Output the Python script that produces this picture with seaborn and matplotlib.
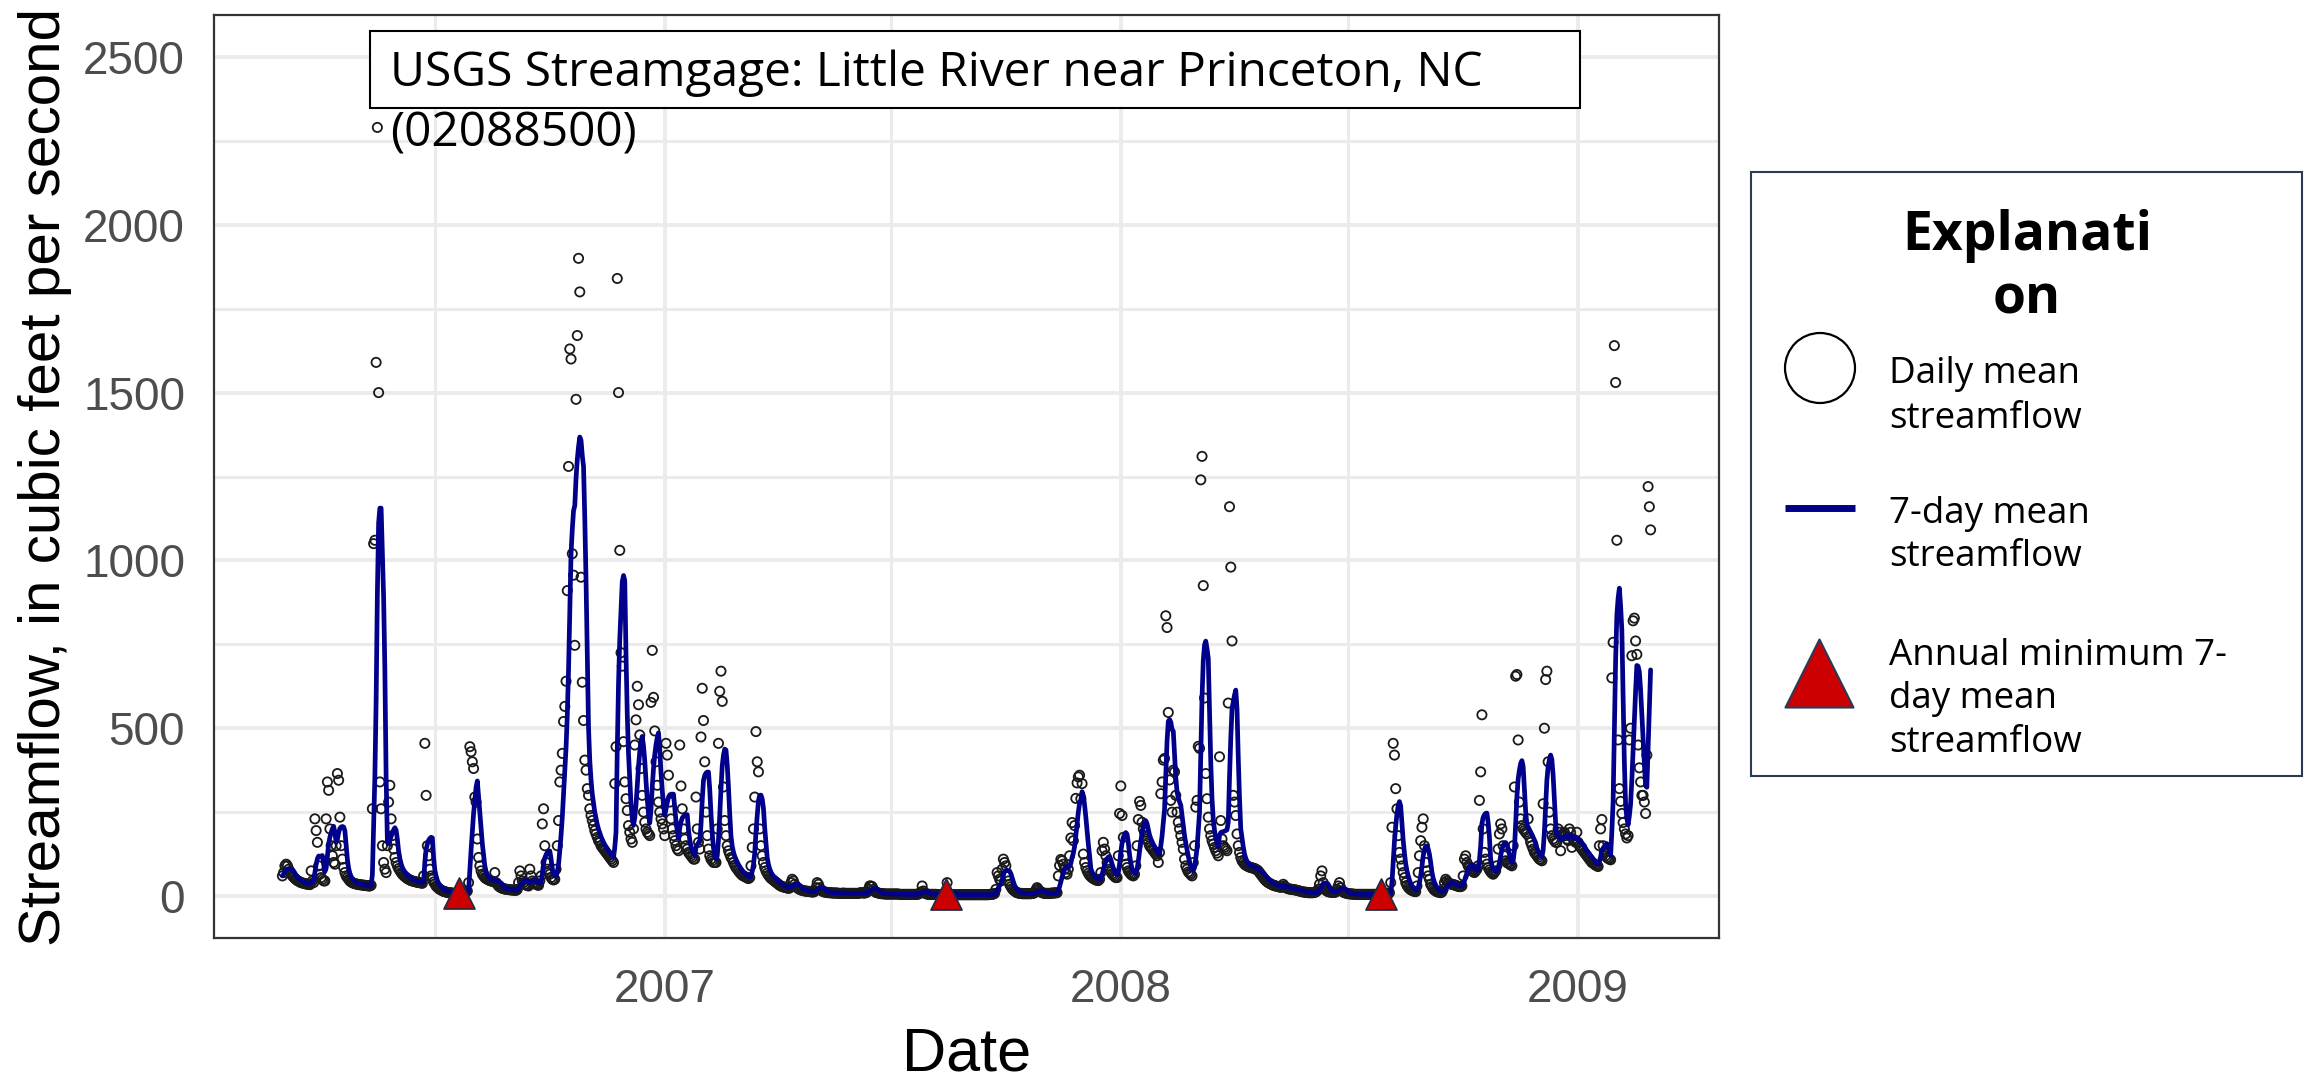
import numpy as np
import pandas as pd
import matplotlib
matplotlib.use("Agg")
import matplotlib.pyplot as plt
import matplotlib.dates as mdates
from matplotlib.ticker import MultipleLocator
from matplotlib.patches import Rectangle
import seaborn as sns

# ---------------- data ----------------
start_date = "2006-03-01"

# daily mean streamflow (cfs), Mar 2006 - Feb 2007
flow_2006_07 = [
    60, 70, 90, 95, 90, 80, 72, 66, 60, 56, 52, 49, 46, 44, 42, 40, 39, 38, 37, 36,
    35, 35, 34, 75, 45, 40,
    230, 195, 160, 90, 65, 55, 50, 45, 45, 230, 340, 315, 200, 150, 120, 100, 95, 150, 365, 345,
    235, 150, 110, 85, 70, 60, 55, 50, 45, 42, 40,
    38, 37, 36, 35, 34, 34, 33, 33, 32, 32, 31, 31, 30, 30, 32,
    260, 1050, 1060, 1590, 2290, 1500, 340, 260, 150, 100, 80, 70, 150, 280, 330, 230, 180, 140, 115, 100,
    90, 82, 76, 70, 65, 61, 58, 55, 52, 50, 48, 46, 45,
    44, 43, 42, 41, 40, 40, 39, 38, 60, 455, 300, 150, 120, 80, 60, 50, 42, 36, 30, 26,
    23, 20, 18, 16, 14, 13, 12, 11, 10, 10, 9, 9, 8, 8, 8, 7, 7, 7, 8, 8, 9,
    10, 12, 15, 40, 445, 430, 400, 380, 295, 280, 170, 115, 90, 75, 65, 60, 55, 52, 50, 48, 46, 45, 44,
    43, 70, 40, 35, 30, 27, 25, 23, 22, 21, 20, 20, 19, 19, 18, 18, 18, 17, 17, 20,
    40, 75, 60, 45, 40, 35, 33, 31, 30, 80, 60, 45, 40, 37, 35, 33, 32, 45, 60,
    215, 260, 150, 100, 80, 70, 65, 55, 50, 48, 50,
    80, 150, 225, 340, 375, 425, 520, 565, 640, 910, 1280, 1630, 1600, 1020, 956, 747, 1480, 1670, 1900, 1800,
    950, 637, 523, 405, 375, 320, 300, 260, 240, 225,
    210, 195, 185, 175, 165, 160, 150, 145, 140, 135, 130, 125, 120, 115, 110, 105, 100,
    335, 445, 1840, 1500, 1030, 725, 685, 460, 340, 290, 255, 210,
    190, 170, 160, 200, 450, 525, 625, 570, 480, 380, 300, 250, 220, 200, 190, 185, 180,
    577, 732, 592, 492, 400, 330, 280, 250, 230, 215, 200, 180,
    455, 420, 360, 280, 230, 200, 180, 165, 150, 140, 135,
    450, 328, 260, 200, 170, 150, 140, 130, 125, 120, 115, 110, 110,
    295, 200, 160, 140, 474, 619, 523, 400, 250, 180, 140, 120, 110, 105, 100, 100, 100,
    200, 455, 610, 670, 580, 325, 225, 180, 150, 135, 125, 115, 110, 100, 92, 85, 80,
]

# daily mean streamflow (cfs), Mar 2007 - Feb 2008
flow_2007_08 = [
    75, 70, 66, 62, 60, 58, 56, 54, 52,
    55, 90, 145, 200, 295, 490, 400, 370, 200, 150, 120, 100, 85, 75, 68, 62, 57, 53, 50, 47,
    44, 41, 38, 35, 32, 30, 28, 27, 26, 25, 24, 23, 24, 40, 50, 45, 35, 28, 25, 22,
    20, 18, 17, 16, 15, 15, 14,
    14, 13, 13, 12, 12, 14, 25, 40, 35, 25, 18, 15, 13, 12, 11, 11, 10, 10, 10, 9,
    9, 9, 9, 9, 8, 8, 8, 8, 9, 8, 8, 8, 8, 8, 8, 8, 8, 8, 8, 8,
    8, 9, 10, 10, 9, 9, 10, 12, 20, 30,
    30, 28, 20, 14, 11, 10, 9, 8, 7, 7, 7, 6, 6, 6, 6, 6, 6, 6, 6, 6,
    6, 6, 6, 5, 5, 5, 5, 5, 5, 5, 5, 5, 5, 5, 5, 5, 5, 5, 6, 8,
    12, 30, 15, 9, 7, 6, 5, 5, 5, 5, 5, 5, 5, 4, 4, 4, 4, 4, 4, 4,
    4, 40, 5, 4, 4, 4, 4, 4, 4, 4, 4, 4, 4, 4, 4, 4, 4, 4, 4, 4,
    4, 4, 4, 4, 4, 4, 4, 4, 4, 4, 4, 4, 4, 4, 4, 5, 5, 5, 6, 8,
    20, 70, 60, 50, 45, 80, 110, 100, 90, 60, 45, 35, 28, 22, 18, 15, 12, 10, 9, 8,
    8, 7, 7, 7, 7, 7, 7, 7, 7, 8, 8, 10, 18, 25, 20, 15, 12, 10, 9, 8,
    8, 8, 8, 8, 8, 9, 9, 9, 10, 10, 60, 91, 109,
    105, 95, 80, 70, 65, 80, 120, 173, 219, 165, 210, 291, 337, 355, 360, 290, 335, 125, 100, 85,
    75, 68, 62, 58, 55, 52, 50, 48, 47, 46, 50, 70, 135, 160, 140, 120, 100,
    90, 80, 72, 66, 62, 58, 55, 55, 120, 246, 328, 240, 175, 120, 95, 85, 75, 70, 65, 62,
    60, 65, 90, 150, 228, 282, 270, 220, 200, 190, 180, 170, 160, 150, 145, 140, 135, 130, 125, 120,
    100, 130,
    305, 340, 405, 410, 835, 800, 547, 346, 285, 250, 375, 370, 300, 250, 220, 200, 180, 160, 140, 110,
    90, 80, 72, 68, 64, 60, 100,
    150,
]

# daily mean streamflow (cfs), Mar 2008 - Feb 2009
flow_2008_09 = [
    265, 285, 446, 440, 1240, 1310, 925, 590, 365, 290, 235, 200, 180, 165, 155, 145, 135, 128, 120,
    415, 225, 170, 150, 145, 140, 135,
    575, 1160, 980, 760, 300, 280, 240, 185, 150, 130, 115, 105, 100, 95, 92,
    90, 88, 86, 85, 84, 83, 82, 80, 78, 75, 70, 65, 60, 55, 50, 46, 43, 40, 38, 36,
    34, 32, 31, 30, 29, 28, 27, 26, 27, 35, 30, 25, 23, 22, 21, 20, 20, 19, 19, 18,
    17, 16, 15, 14, 13, 12, 12, 11, 11, 10, 10, 10, 10, 10, 11, 12, 15, 20, 35, 60,
    75, 40, 25, 18, 15, 13, 12, 12, 11, 11, 11, 12, 20, 30, 40, 25, 15, 12, 10, 9,
    8, 7, 7, 6, 6, 6, 5, 5, 5, 5,
    5, 5, 5, 5, 5, 5, 5, 5, 5, 5, 5, 5, 5, 5, 5, 4, 4, 4, 4, 4, 5, 5, 5, 6,
    10, 40, 205, 455, 420, 320, 260, 180, 130, 110, 90, 70, 55, 40, 32, 26, 22, 19, 17, 15, 14, 13,
    30, 70, 120, 165, 205, 230, 150, 100, 75, 60, 50, 35, 28, 22, 18, 15, 13, 12, 11, 10,
    12, 20, 40, 50, 45, 40, 38, 36, 35, 34, 33, 32, 30, 29, 28, 28, 30, 60, 110, 120,
    100, 90, 85, 80, 75, 72, 70, 75,
    80, 90, 285, 370, 540, 200, 130, 110, 95, 85, 78, 72, 68, 65,
    70, 75, 90, 140, 185, 215, 200, 150, 120, 105, 100, 98, 95, 93, 90,
    150, 325, 655, 660, 465, 280, 230, 210, 200, 195, 190, 185, 230, 175, 160, 150, 140, 130, 125, 120,
    115, 110, 108, 105, 275,
    500, 645, 670, 400, 250, 200, 180,
    170, 165, 160, 160, 200, 190, 135, 180, 185, 190, 180, 170, 165, 200, 190, 145, 170, 165, 160, 190,
    160, 150, 145, 140, 135, 130, 125, 120, 115, 110, 105, 100, 98, 95, 92, 90, 88, 150, 200, 228,
    150, 130, 120, 115, 112, 110, 108,
    650, 756, 1640, 1530, 1060, 465, 320, 282, 246, 219, 200, 185, 173, 180, 465, 500, 716, 820, 828, 760,
    720, 450, 382, 340, 300, 300, 280, 246, 420, 1220, 1160, 1091,
]

# annual minimum 7-day mean streamflow
annual_min_dates = ["2006-07-20", "2007-08-14", "2008-07-27"]
annual_min_values = [8, 5, 5]

y_ticks = [0, 500, 1000, 1500, 2000, 2500]
title_lines = ["USGS Streamgage: Little River near Princeton, NC", "(02088500)"]
legend_title_lines = ["Explanati", "on"]
legend_labels = [["Daily mean", "streamflow"],
                 ["7-day mean", "streamflow"],
                 ["Annual minimum 7-", "day mean", "streamflow"]]
x_label = "Date"
y_label = "Streamflow, in cubic feet per second"

# ---------------- build frames ----------------
flow = flow_2006_07 + flow_2007_08 + flow_2008_09
dates = pd.date_range(start_date, periods=len(flow), freq="D")
df = pd.DataFrame({"Date": dates, "Flow": flow})
df["Flow7"] = df["Flow"].rolling(7, min_periods=1).mean()
mins = pd.DataFrame({"Date": pd.to_datetime(annual_min_dates), "Flow": annual_min_values})

# ---------------- figure ----------------
sns.set_theme(style="white")
plt.rcParams["font.family"] = ["Liberation Sans", "DejaVu Sans"]

W, H = 2304, 1081
fig = plt.figure(figsize=(W / 100, H / 100), dpi=100)
fig.patch.set_facecolor("white")
ax_l, ax_r, ax_t, ax_b = 214, 1719, 15, 938
ax = fig.add_axes([ax_l / W, 1 - ax_b / H, (ax_r - ax_l) / W, (ax_b - ax_t) / H])
ax.set_facecolor("white")

NAVY = "#00008B"
sns.scatterplot(data=df, x="Date", y="Flow", ax=ax, marker="o", s=44,
                facecolor="none", edgecolor="#1A1A1A", color="#1A1A1A",
                linewidth=1.3, zorder=2, legend=False)
sns.lineplot(data=df, x="Date", y="Flow7", ax=ax, color=NAVY, linewidth=3.4,
             zorder=3, legend=False)
sns.scatterplot(data=mins, x="Date", y="Flow", ax=ax, marker="^", s=500,
                color="#CC0000", edgecolor="#1F2A44", linewidth=1.2,
                zorder=4, legend=False)

# scales (ggplot-like 5% expansion)
span = df["Date"].max() - df["Date"].min()
ax.set_xlim(df["Date"].min() - 0.05 * span, df["Date"].max() + 0.05 * span)
ax.set_ylim(-125, 2625)
ax.set_yticks(y_ticks)
ax.yaxis.set_minor_locator(MultipleLocator(250))
ax.xaxis.set_major_locator(mdates.YearLocator())
ax.xaxis.set_major_formatter(mdates.DateFormatter("%Y"))
ax.xaxis.set_minor_locator(mdates.MonthLocator(bymonth=7))

ax.grid(True, which="major", color="#EBEBEB", linewidth=2.8)
ax.grid(True, which="minor", color="#EBEBEB", linewidth=2.2)
ax.set_axisbelow(True)
ax.tick_params(which="major", direction="out", length=10, width=1.6, color="#333333",
               labelsize=33, labelcolor="#4D4D4D")
ax.tick_params(which="minor", length=0)
ax.tick_params(axis="x", pad=11.5)
ax.tick_params(axis="y", pad=10.8)
for sp in ax.spines.values():
    sp.set_visible(True)
    sp.set_color("#333333")
    sp.set_linewidth(1.6)

ax.set_xlabel(x_label, fontsize=44, color="black")
ax.set_ylabel(y_label, fontsize=42, color="black")
ax.xaxis.set_label_coords(0.5, -(1026.5 - ax_b) / (ax_b - ax_t))
ax.yaxis.set_label_coords((72 - ax_l) / (ax_r - ax_l), 0.5)

# ---------------- overlay (title box + explanation) in pixel coords ----------------
ov = fig.add_axes([0, 0, 1, 1], zorder=10)
ov.set_xlim(0, W)
ov.set_ylim(H, 0)
ov.axis("off")
ov.patch.set_alpha(0)

ov.add_patch(Rectangle((370, 31), 1210, 77, facecolor="white", edgecolor="black", linewidth=1.5))
ov.text(390, 86, title_lines[0], fontsize=34.5, family="Open Sans", ha="left", va="baseline", color="black")
ov.text(390, 147, title_lines[1], fontsize=34.5, family="Open Sans", ha="left", va="baseline", color="black")

LEG_EDGE = "#2B3A55"
ov.add_patch(Rectangle((1751, 172), 551, 604, facecolor="white", edgecolor=LEG_EDGE, linewidth=1.5))
ov.text(2027, 250, legend_title_lines[0], fontsize=38.5, fontweight="bold", family="Open Sans",
        ha="center", va="baseline", color="black")
ov.text(2027, 313, legend_title_lines[1], fontsize=38.5, fontweight="bold", family="Open Sans",
        ha="center", va="baseline", color="black")

# legend keys
ov.scatter([1820], [368], s=2540, facecolors="none", edgecolors="black", linewidths=1.6)
ov.plot([1785, 1855], [508, 508], color=NAVY, linewidth=5, solid_capstyle="butt")
ov.scatter([1819], [673], marker="^", s=2400, color="#CC0000", edgecolors=LEG_EDGE, linewidths=1.5)

label_baselines = [[383, 427.5], [523.5, 566], [665, 708, 752]]
for lines, bases in zip(legend_labels, label_baselines):
    for txt, yb in zip(lines, bases):
        ov.text(1889, yb, txt, fontsize=26.5, family="Open Sans", ha="left", va="baseline", color="black")

fig.savefig("out.png", dpi=100, facecolor="white")
print(len(flow))
